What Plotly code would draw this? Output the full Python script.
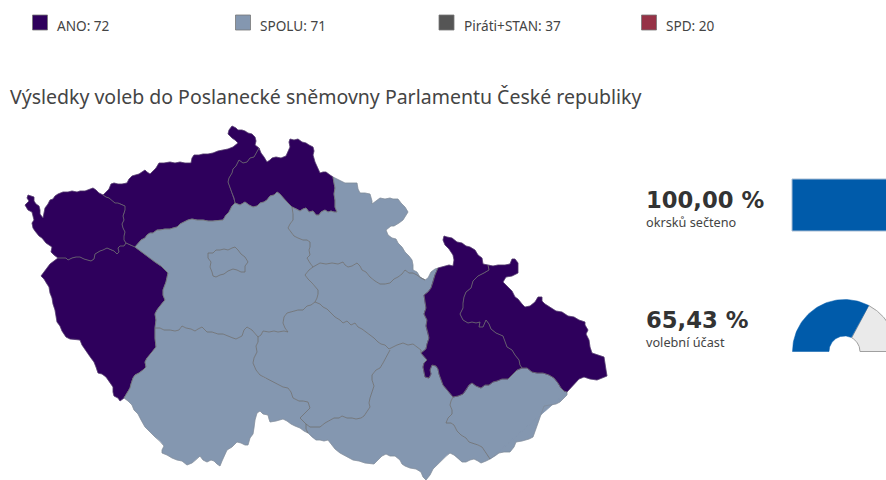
import math
import plotly.graph_objects as go

# Seats per party
parties = ["ANO", "SPOLU", "Piráti+STAN", "SPD"]
seats = [72, 71, 37, 20]
party_colors = ["#2e005c", "#8497b0", "#555555", "#963246"]
swatch_x = [40, 243, 446.5, 649]
label_x = [57, 260, 464, 666]

title_text = "Výsledky voleb do Poslanecké sněmovny Parlamentu České republiky"
counted_pct = 100.00
turnout_pct = 65.43

# Region borders as map-space polylines, each shared by the regions on both sides
karl_usti = [(103,195),(106,197),(109,198),(112,201),(115,203),(118,203),(121,204),(125,206),(125,210),(124,214),(123,216),(124,220),(122,224),(123,228),(125,232),(124,236),(124,240),(126,243)]
karl_plz = [(126,243),(124,246),(120,246),(118,248),(119,252),(117,254),(114,251),(111,250),(107,248),(103,250),(100,251),(95,254),(94,259),(91,261),(87,260),(84,259),(80,257),(76,257),(72,258),(68,260),(66,258),(62,258),(58,258)]
karl_outer = [(58,258),(54,255),(51,252),(52,247),(49,245),(46,243),(42,238),(39,236),(35,231),(33,228),(32,223),(34,220),(33,216),(32,212),(28,210),(25,205),(27,203),(29,201),(27,198),(28,195),(31,196),(34,197),(34,201),(36,204),(39,206),(40,210),(40,214),(43,218),(44,213),(45,208),(48,204),(50,200),(53,199),(55,196),(58,194),(63,192),(68,192),(72,191),(77,192),(80,191),(85,191),(90,189),(93,188),(96,190),(99,193),(103,195)]
usti_plz = [(126,243),(130,245),(135,247)]
usti_stc = [(135,247),(139,243),(141,240),(145,238),(147,235),(150,233),(153,233),(157,230),(160,230),(165,229),(170,229),(173,228),(177,227),(180,224),(184,222),(188,220),(192,219),(197,220),(203,220),(208,221),(213,221),(219,220),(223,220),(226,215),(229,212),(232,206),(235,203)]
usti_lib = [(235,203),(234,198),(232,193),(230,188),(228,182),(229,178),(232,173),(233,169),(236,166),(239,160),(243,163),(247,162),(250,158),(254,157),(256,153),(259,148)]
usti_outer = [(103,195),(106,192),(109,189),(111,184),(114,183),(118,184),(122,184),(127,183),(129,179),(132,176),(135,175),(139,174),(142,172),(145,170),(147,172),(150,174),(153,171),(156,168),(159,163),(164,163),(170,162),(175,163),(180,162),(185,163),(191,163),(192,158),(194,155),(199,155),(203,154),(208,154),(213,153),(218,151),(223,150),(228,149),(233,147),(238,143),(235,140),(232,138),(228,134),(229,130),(232,126),(236,128),(238,130),(242,130),(245,131),(248,133),(252,134),(255,137),(256,141),(255,145),(259,148)]
lib_outer = [(259,148),(261,153),(264,157),(267,162),(270,160),(272,158),(276,157),(281,158),(286,156),(288,151),(290,147),(289,142),(290,139),(294,140),(298,139),(302,142),(306,143),(309,145),(313,147),(314,151),(313,155),(315,162),(317,167),(320,173),(323,172),(326,172),(330,175),(333,177)]
lib_stc = [(235,203),(240,205),(245,202),(249,205),(253,207),(257,206),(260,203),(264,202),(267,200),(270,196),(274,195),(277,192),(280,194),(284,199),(288,203),(292,207)]
lib_kh = [(292,207),(297,209),(300,211),(303,209),(306,208),(309,212),(313,211),(316,215),(319,215),(321,212),(325,210),(328,212),(331,211),(334,212),(337,212),(335,207),(335,200),(334,194),(335,188),(334,183),(333,177)]
stc_kh = [(292,207),(293,214),(293,220),(290,224),(288,228),(291,232),(294,236),(298,238),(303,240),(307,240),(310,242),(310,247),(309,250),(310,255),(307,258),(310,263),(313,267)]
stc_pard = [(313,267),(309,270),(305,275),(308,279),(312,283),(315,287),(318,290),(318,294),(317,298),(315,302)]
stc_vys = [(315,302),(311,305),(307,306),(303,310),(298,310),(294,311),(290,312),(287,313),(284,317),(283,323),(285,328),(288,332),(284,331),(278,332),(274,331),(269,332),(263,331),(261,335),(258,337)]
stc_jih = [(258,337),(255,333),(252,330),(247,327),(244,330),(242,336),(240,337),(236,339),(233,338),(228,336),(223,334),(218,334),(212,332),(207,332),(204,329),(202,327),(198,329),(195,331),(191,329),(186,328),(182,326),(179,330),(175,331),(170,330),(164,330),(160,328),(155,328)]
stc_plz = [(155,328),(156,320),(155,314),(157,310),(160,306),(163,302),(165,300),(163,295),(163,290),(166,282),(168,273),(165,270),(161,266),(155,262),(151,259),(147,256),(143,253),(139,250),(135,247)]
plz_jih = [(155,328),(155,338),(156,347),(153,351),(150,355),(147,358),(145,362),(146,367),(143,370),(139,373),(135,375),(133,378),(131,384),(130,388),(127,393),(124,398)]
plz_outer = [(58,258),(54,261),(50,264),(47,268),(44,272),(41,276),(44,279),(47,284),(49,287),(50,293),(52,298),(53,304),(55,310),(56,316),(57,322),(60,326),(62,331),(66,337),(70,339),(74,339),(80,340),(82,345),(85,350),(88,354),(91,358),(94,362),(96,367),(98,373),(102,374),(106,377),(109,381),(113,387),(113,392),(114,396),(118,398),(120,401),(124,398)]
jih_outer = [(124,398),(128,401),(132,405),(134,410),(138,414),(141,420),(145,427),(150,432),(155,437),(160,441),(164,446),(162,450),(162,453),(167,455),(172,458),(177,460),(182,461),(187,465),(192,463),(196,460),(200,456),(203,460),(207,462),(211,460),(214,461),(217,464),(220,466),(222,461),(224,456),(227,450),(232,447),(237,442),(241,443),(245,445),(248,445),(250,438),(253,434),(254,428),(255,420),(257,413),(260,411),(263,414),(268,415),(269,419),(270,422),(276,421),(283,419),(287,421),(291,424),(295,426),(300,428),(304,431),(308,433)]
jih_jmk = [(308,433),(306,429),(306,424)]
jih_vys = [(306,424),(303,421),(300,418),(304,414),(310,408),(308,402),(303,401),(299,401),(293,398),(291,392),(288,388),(283,387),(279,385),(275,383),(270,380),(265,378),(260,375),(256,370),(253,363),(254,358),(257,352),(256,346),(258,342),(258,337)]
vys_jmk = [(306,424),(310,427),(316,427),(320,427),(325,423),(329,421),(334,418),(339,418),(342,416),(347,418),(352,418),(356,419),(361,418),(364,416),(367,412),(370,407),(369,403),(370,398),(372,392),(374,386),(372,380),(372,375),(376,370),(380,368),(383,363),(386,358),(388,354),(390,350)]
vys_pard = [(315,302),(320,304),(323,307),(327,309),(331,313),(335,317),(340,320),(343,323),(347,321),(351,325),(355,323),(358,327),(362,329),(366,332),(370,335),(374,338),(378,342),(381,344),(385,345),(389,349)]
pard_jmk = [(389,349),(393,347),(397,345),(403,343),(408,345),(413,344),(417,347),(421,350),(421,353)]
kh_pard = [(313,267),(317,265),(320,263),(326,264),(332,263),(338,264),(343,262),(345,265),(348,267),(352,266),(357,263),(360,266),(362,270),(366,272),(370,277),(375,281),(380,284),(385,284),(390,283),(394,279),(398,277),(402,274),(405,270),(409,273),(413,273),(417,275),(421,278),(425,280)]
kh_outer = [(333,177),(339,180),(345,183),(351,183),(357,183),(358,189),(360,193),(365,193),(370,194),(372,201),(372,204),(376,201),(380,198),(385,199),(390,198),(393,199),(398,199),(401,203),(405,207),(408,212),(405,217),(403,220),(399,223),(394,226),(391,226),(386,230),(388,235),(392,238),(396,239),(398,243),(402,247),(405,252),(409,256),(412,260),(413,265),(413,270),(417,272),(420,277),(425,280)]
pard_outer = [(425,280),(428,278),(431,272),(435,269),(438,268)]
pard_olo = [(421,353),(426,349),(427,344),(429,338),(428,333),(426,326),(427,320),(424,314),(426,308),(425,302),(424,295),(428,292),(431,288),(433,282),(435,275),(438,268)]
olo_jmk = [(421,353),(424,357),(427,360),(424,363),(423,367),(424,372),(425,377),(429,378),(431,374),(430,370),(432,365),(436,366),(438,369),(439,374),(441,380),(443,385),(448,391),(453,397)]
jmk_zlin = [(453,397),(451,401),(450,405),(452,410),(452,414),(448,418),(446,423),(451,423),(454,425),(457,431),(461,435),(466,438),(469,442),(473,443),(478,445),(482,447),(485,452),(490,459)]
jmk_outer = [(308,433),(312,437),(316,440),(320,440),(324,441),(328,440),(331,444),(335,449),(340,453),(345,456),(353,460),(359,461),(365,463),(374,464),(378,460),(382,456),(386,454),(390,456),(395,456),(400,460),(402,464),(405,466),(410,468),(416,469),(421,472),(423,477),(426,480),(430,475),(433,469),(438,464),(442,460),(446,456),(450,453),(454,455),(458,458),(462,462),(466,462),(470,460),(474,459),(478,461),(481,463),(486,461),(490,459)]
olo_zlin = [(453,397),(458,396),(463,394),(466,390),(469,385),(472,383),(476,386),(481,388),(485,385),(489,385),(493,382),(497,381),(502,379),(508,379),(511,376),(514,373),(517,370),(522,368)]
msk_zlin = [(522,368),(527,368),(532,372),(537,373),(543,373),(549,375),(554,378),(558,383),(561,388),(564,391),(567,392)]
zlin_outer = [(490,459),(495,456),(499,453),(504,452),(510,452),(514,447),(516,442),(522,441),(529,439),(533,437),(535,431),(537,425),(539,419),(541,413),(544,406),(550,405),(556,404),(560,402),(564,398),(567,395),(567,392)]
msk_outer = [(567,392),(571,388),(575,384),(579,379),(584,377),(590,379),(597,380),(602,378),(607,376),(606,370),(605,364),(604,357),(598,355),(592,353),(590,347),(589,340),(586,334),(588,330),(585,325),(585,322),(579,320),(574,317),(568,316),(562,312),(556,311),(550,307),(545,304),(542,301),(542,297),(538,297),(535,302),(530,306),(525,307),(522,304),(518,299),(515,297),(512,291),(507,286),(503,282),(506,277),(512,276),(518,273),(518,268),(518,263),(515,259),(512,259),(510,264),(505,265),(498,265),(493,266),(488,265)]
msk_olo = [(488,265),(489,270),(484,273),(478,276),(473,281),(471,288),(466,292),(464,297),(463,303),(463,308),(460,314),(463,320),(468,323),(472,322),(476,323),(480,322),(479,327),(483,327),(486,320),(489,324),(491,329),(496,333),(503,336),(505,341),(507,347),(512,350),(515,355),(519,360),(520,365),(522,368)]
olo_outer = [(488,265),(483,264),(482,258),(478,255),(475,250),(470,247),(466,246),(462,243),(457,242),(452,238),(447,237),(444,236),(443,240),(445,245),(449,249),(453,255),(454,260),(453,266),(449,265),(445,266),(441,267),(438,268)]
praha_outline = [(208,253),(213,253),(216,250),(220,250),(224,249),(228,250),(232,248),(235,247),(238,250),(241,254),(245,257),(248,262),(245,266),(245,272),(241,272),(237,270),(233,269),(228,271),(224,274),(220,275),(216,277),(213,276),(212,272),(210,267),(211,262),(208,258),(208,253)]


def rev(seg):
    return seg[::-1]


# Each region is a closed walk around its shared borders
regions = {
    "Karlovarský": ("ANO", [karl_usti, karl_plz, karl_outer]),
    "Ústecký": ("ANO", [usti_outer, rev(usti_lib), rev(usti_stc), rev(usti_plz), rev(karl_usti)]),
    "Liberecký": ("ANO", [lib_outer, rev(lib_kh), rev(lib_stc), usti_lib]),
    "Plzeňský": ("ANO", [rev(karl_plz), usti_plz, rev(stc_plz), plz_jih, rev(plz_outer)]),
    "Středočeský": ("SPOLU", [usti_stc, lib_stc, stc_kh, stc_pard, stc_vys, stc_jih, stc_plz]),
    "Jihočeský": ("SPOLU", [rev(stc_jih), rev(jih_vys), rev(jih_jmk), rev(jih_outer), rev(plz_jih)]),
    "Vysočina": ("SPOLU", [rev(stc_vys), vys_pard, rev(vys_jmk), jih_vys]),
    "Královéhradecký": ("SPOLU", [lib_kh, kh_outer, rev(kh_pard), rev(stc_kh)]),
    "Pardubický": ("SPOLU", [kh_pard, pard_outer, rev(pard_olo), rev(pard_jmk), rev(vys_pard), rev(stc_pard)]),
    "Jihomoravský": ("SPOLU", [vys_jmk, pard_jmk, olo_jmk, jmk_zlin, rev(jmk_outer), jih_jmk]),
    "Zlínský": ("SPOLU", [olo_zlin, msk_zlin, zlin_outer, rev(jmk_zlin)]),
    "Olomoucký": ("ANO", [olo_outer, rev(pard_olo), olo_jmk, olo_zlin, rev(msk_olo)]),
    "Moravskoslezský": ("ANO", [msk_olo, msk_zlin, msk_outer]),
}
inner_borders = [karl_usti, karl_plz, usti_plz, usti_stc, usti_lib, lib_stc, lib_kh, stc_kh, stc_pard,
                 stc_vys, stc_jih, stc_plz, plz_jih, jih_vys, vys_jmk, vys_pard, pard_jmk, kh_pard,
                 pard_olo, olo_jmk, jmk_zlin, olo_zlin, msk_zlin, msk_olo, jih_jmk, praha_outline]
state_border = [karl_outer, usti_outer, lib_outer, kh_outer, pard_outer, olo_outer, msk_outer,
                zlin_outer, jmk_outer, jih_outer, plz_outer]

fig = go.Figure()
party_color = dict(zip(parties, party_colors))

for name, (winner, parts) in regions.items():
    xs, ys = [], []
    for part in parts:
        xs += [p[0] for p in part]
        ys += [p[1] for p in part]
    fig.add_trace(go.Scatter(x=xs, y=ys, mode="lines", fill="toself",
                             fillcolor=party_color[winner],
                             line=dict(color=party_color[winner], width=0.6),
                             name=name, hoverinfo="skip", showlegend=False))


def border_trace(segments, color, width):
    bx, by = [], []
    for seg in segments:
        bx += [p[0] for p in seg] + [None]
        by += [p[1] for p in seg] + [None]
    fig.add_trace(go.Scatter(x=bx, y=by, mode="lines", line=dict(color=color, width=width),
                             hoverinfo="skip", showlegend=False))


# Soft edge around the country, thin grey lines where two regions meet
border_trace(state_border, "rgba(120,120,120,0.45)", 0.7)
border_trace(inner_borders, "#707070", 0.8)

# Party key along the top
fig.add_trace(go.Scatter(x=swatch_x, y=[22.5] * 4, mode="markers",
                         marker=dict(symbol="square", size=15, color=party_colors,
                                     line=dict(color="#777777", width=0.8)),
                         hoverinfo="skip", showlegend=False))

# Share of counted districts
bar_full = 104
fig.add_trace(go.Bar(x=[bar_full * counted_pct / 100], y=[205], base=792, width=52,
                     orientation="h", marker=dict(color="#005baa", line=dict(color="#a9bdd3", width=1)),
                     hoverinfo="skip", showlegend=False))


def ring_sector(cx, cy, r0, r1, a0, a1, steps=60):
    angles = [a0 + (a1 - a0) * i / steps for i in range(steps + 1)]
    xs = [cx + r1 * math.cos(a) for a in angles] + [cx + r0 * math.cos(a) for a in angles[::-1]]
    ys = [cy - r1 * math.sin(a) for a in angles] + [cy - r0 * math.sin(a) for a in angles[::-1]]
    return xs + xs[:1], ys + ys[:1]


# Turnout half-ring
split = math.pi * (1 - turnout_pct / 100)
xs, ys = ring_sector(844.5, 351.5, 15.5, 52, split, 0)
fig.add_trace(go.Scatter(x=xs, y=ys, mode="lines", fill="toself", fillcolor="#eaeaea",
                         line=dict(color="#a0a0a0", width=1), hoverinfo="skip", showlegend=False))
xs, ys = ring_sector(844.5, 351.5, 15.5, 52, math.pi, split)
fig.add_trace(go.Scatter(x=xs, y=ys, mode="lines", fill="toself", fillcolor="#005baa",
                         line=dict(color="#005baa", width=0.5), hoverinfo="skip", showlegend=False))


def label(x, y, text, size, color="#444444", bold=False, family="Noto Sans"):
    fig.add_annotation(x=x, y=y, text=f"<b>{text}</b>" if bold else text, showarrow=False,
                       xanchor="left", yanchor="middle", borderpad=0, borderwidth=0,
                       font=dict(family=family, size=size, color=color))


for lx, party, seat in zip(label_x, parties, seats):
    label(lx, 25, f"{party}: {seat}", 13.6)
label(10, 96, title_text, 19.5)
label(646, 200, f"{counted_pct:.2f} %".replace(".", ","), 22.7, "#333333", True, "DejaVu Sans")
label(646, 222, "okrsků sečteno", 12.7)
label(646, 320, f"{turnout_pct:.2f} %".replace(".", ","), 22.7, "#333333", True, "DejaVu Sans")
label(646, 342, "volební účast", 12.7)

fig.update_layout(
    width=886, height=480, margin=dict(l=0, r=0, t=0, b=0),
    paper_bgcolor="white", plot_bgcolor="white", showlegend=False,
    xaxis=dict(range=[0, 886], visible=False, fixedrange=True),
    yaxis=dict(range=[480, 0], visible=False, fixedrange=True),
)
fig.write_html("out.html", config={"displayModeBar": False})
